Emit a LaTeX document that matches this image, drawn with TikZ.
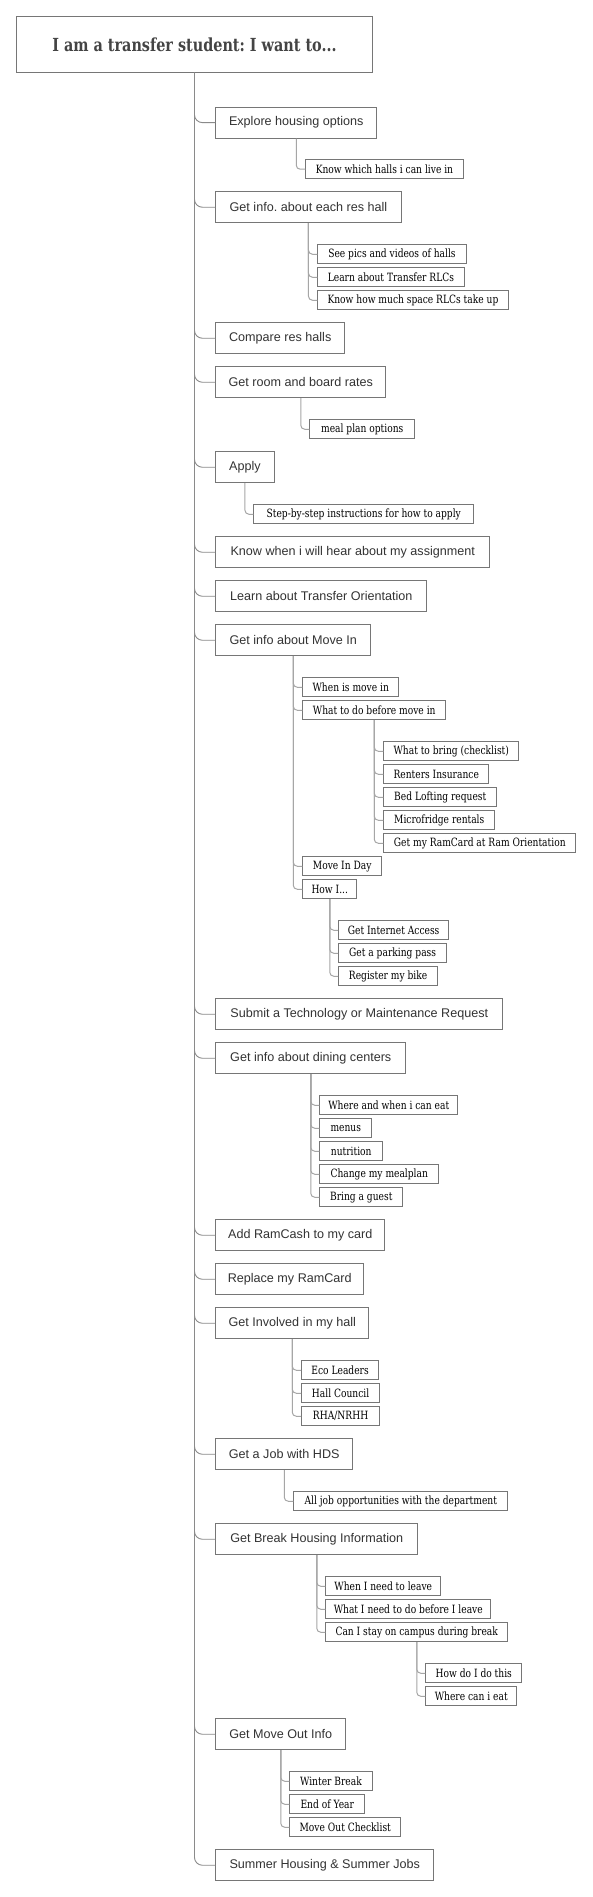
\documentclass[tikz,border=0pt]{standalone}
\usepackage{fontspec}
\setmainfont{Liberation Sans}
\newfontfamily\slab[FakeStretch=0.8]{DejaVu Serif}
\frenchspacing
\definecolor{boxgray}{HTML}{767676}
\definecolor{trunkgray}{HTML}{8A8A8A}
\definecolor{subgray}{HTML}{A6A6A6}
\definecolor{txt}{HTML}{333333}
\definecolor{titletxt}{HTML}{444444}
\tikzset{
  x=1pt, y=-1pt,
  box/.style={draw=boxgray, line width=0.9pt, fill=white, inner sep=0pt, anchor=north west},
  titlebox/.style={box, minimum width=356pt, minimum height=56pt, text=titletxt,
    font=\slab\bfseries\fontsize{18}{22}\selectfont},
  mainbox/.style={box, minimum height=31pt, text=txt, font=\fontsize{12.6}{15}\selectfont},
  subbox/.style={box, minimum height=19pt, text=black, font=\slab\fontsize{11.4}{13}\selectfont},
  trunk/.style={draw=trunkgray, line width=0.9pt, rounded corners=8pt},
  branch/.style={draw=subgray, line width=1pt, rounded corners=4pt}
}
\newcommand\mainnode[4]{\node[mainbox, minimum width=#3pt] (#1) at (215.3,#2) {#4};}
\newcommand\subnode[5]{\node[subbox, minimum width=#4pt] (#1) at (#2,#3) {#5};}
\begin{document}
\begin{tikzpicture}
\useasboundingbox[fill=white] (0,0) rectangle (592,1897);
\node[titlebox] (title) at (16,16) {I am a transfer student: I want to...};

\mainnode{m1}{106.7}{161}{Explore housing options}
\subnode{s1a}{305.3}{159.3}{157.4}{Know which halls i can live in}

\mainnode{m2}{191.3}{185.4}{Get info. about each res hall}
\subnode{s2a}{317.3}{244.3}{148.4}{See pics and videos of halls}
\subnode{s2b}{317.3}{267.3}{146.4}{Learn about Transfer RLCs}
\subnode{s2c}{317.3}{290.3}{190.4}{Know how much space RLCs take up}

\mainnode{m3}{322.3}{129}{Compare res halls}

\mainnode{m4}{366.3}{170}{Get room and board rates}
\subnode{s4a}{309.3}{419.3}{105}{meal plan options}

\mainnode{m5}{451.3}{58.4}{Apply}
\subnode{s5a}{253.3}{504.3}{220}{Step-by-step instructions for how to apply}

\mainnode{m6}{536.3}{274}{Know when i will hear about my assignment}
\mainnode{m7}{580.3}{211}{Learn about Transfer Orientation}

\mainnode{m8}{624.3}{155}{Get info about Move In}
\subnode{s8a}{302.3}{677.3}{96}{When is move in}
\subnode{s8b}{302.3}{700.3}{143}{What to do before move in}
\subnode{t1}{383.3}{741.3}{135}{What to bring (checklist)}
\subnode{t2}{383.3}{764.3}{105}{Renters Insurance}
\subnode{t3}{383.3}{787.3}{113}{Bed Lofting request}
\subnode{t4}{383.3}{810.3}{111}{Microfridge rentals}
\subnode{t5}{383.3}{833.3}{192}{Get my RamCard at Ram Orientation}
\subnode{s8c}{302.3}{856.3}{79}{Move In Day}
\subnode{s8d}{302.3}{879.3}{54}{How I...}
\subnode{u1}{338}{920.3}{110.3}{Get Internet Access}
\subnode{u2}{338}{943.3}{108.3}{Get a parking pass}
\subnode{u3}{338}{966.3}{99.3}{Register my bike}

\mainnode{m9}{998.3}{287}{Submit a Technology or Maintenance Request}

\mainnode{m10}{1042.3}{190}{Get info about dining centers}
\subnode{d1}{319.3}{1095.3}{138}{Where and when i can eat}
\subnode{d2}{319.3}{1118.3}{52}{menus}
\subnode{d3}{319.3}{1141.3}{63}{nutrition}
\subnode{d4}{319.3}{1164.3}{119}{Change my mealplan}
\subnode{d5}{319.3}{1187.3}{83}{Bring a guest}

\mainnode{m11}{1219.3}{169}{Add RamCash to my card}
\mainnode{m12}{1263.3}{148}{Replace my RamCard}

\mainnode{m13}{1307.3}{153}{Get Involved in my hall}
\subnode{i1}{301}{1360.3}{77.3}{Eco Leaders}
\subnode{i2}{301}{1383.3}{78.3}{Hall Council}
\subnode{i3}{301}{1406.3}{78.3}{RHA/NRHH}

\mainnode{m14}{1438.3}{137}{Get a Job with HDS}
\subnode{j1}{293.3}{1491.3}{214}{All job opportunities with the department}

\mainnode{m15}{1523.3}{202}{Get Break Housing Information}
\subnode{b1}{325.3}{1576.3}{115}{When I need to leave}
\subnode{b2}{325.3}{1599.3}{165}{What I need to do before I leave}
\subnode{b3}{325.3}{1622.3}{182}{Can I stay on campus during break}
\subnode{b3a}{425.3}{1663.3}{96}{How do I do this}
\subnode{b3b}{425.3}{1686.3}{91}{Where can i eat}

\mainnode{m16}{1718.3}{130}{Get Move Out Info}
\subnode{o1}{289.3}{1771.3}{82.4}{Winter Break}
\subnode{o2}{289.3}{1794.3}{75}{End of Year}
\subnode{o3}{289.3}{1817.3}{111}{Move Out Checklist}

\mainnode{m17}{1849.3}{218}{Summer Housing \& Summer Jobs}

% trunk connectors
\foreach \m in {m1,m2,m3,m4,m5,m6,m7,m8,m9,m10,m11,m12,m13,m14,m15,m16,m17}
  \draw[trunk] (title.south) |- (\m.west);

% branch connectors
\draw[branch] (m1.south) |- (s1a.west);
\foreach \c in {s2a,s2b,s2c} \draw[branch] (m2.south) |- (\c.west);
\draw[branch] (m4.south) |- (s4a.west);
\draw[branch] (m5.south) |- (s5a.west);
\foreach \c in {s8a,s8b,s8c,s8d} \draw[branch] (m8.south) |- (\c.west);
\foreach \c in {t1,t2,t3,t4,t5} \draw[branch] (s8b.south) |- (\c.west);
\foreach \c in {u1,u2,u3} \draw[branch] (s8d.south) |- (\c.west);
\foreach \c in {d1,d2,d3,d4,d5} \draw[branch] (m10.south) |- (\c.west);
\foreach \c in {i1,i2,i3} \draw[branch] (m13.south) |- (\c.west);
\draw[branch] (m14.south) |- (j1.west);
\foreach \c in {b1,b2,b3} \draw[branch] (m15.south) |- (\c.west);
\foreach \c in {b3a,b3b} \draw[branch] (b3.south) |- (\c.west);
\foreach \c in {o1,o2,o3} \draw[branch] (m16.south) |- (\c.west);
\end{tikzpicture}
\end{document}
